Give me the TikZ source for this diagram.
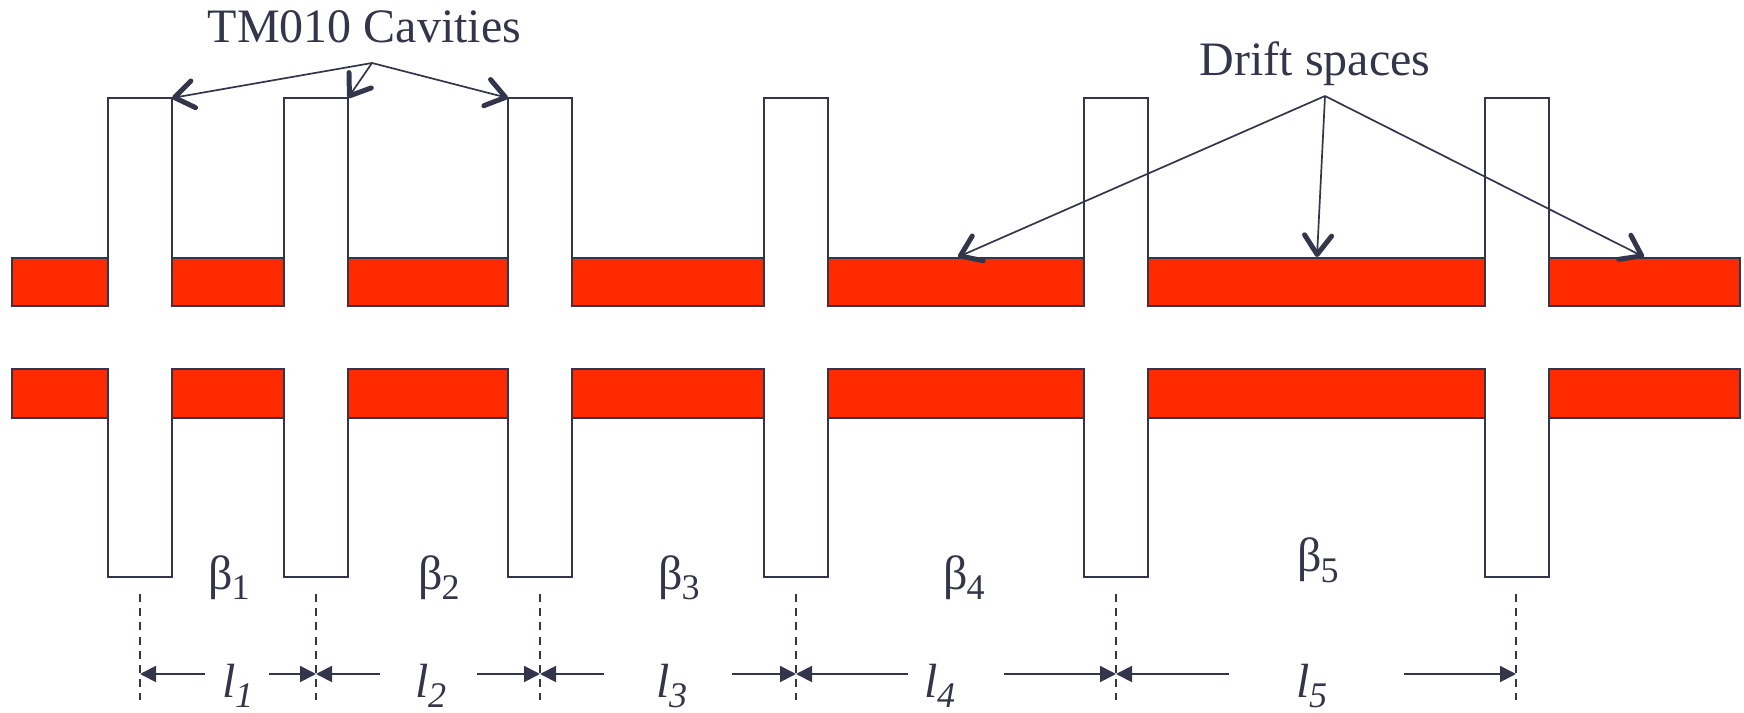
\documentclass[tikz,border=0pt]{standalone}
\usepackage{fontspec}
\setmainfont{Liberation Serif}
\usetikzlibrary{arrows.meta}
\definecolor{cLine}{HTML}{33364A}
\definecolor{cPipe}{HTML}{FF2A00}
\newcommand{\subtxt}[1]{\kern-0.15mm\raisebox{-1mm}{\fontsize{10.25}{12}\selectfont #1}}
\newcommand{\sublow}[1]{\kern-0.1mm\raisebox{-1mm}{\fontsize{10.25}{12}\selectfont #1}}
\tikzset{
  pipe/.style={fill=cPipe,draw=cLine,line width=0.22mm,line join=miter},
  wall/.style={draw=cLine,line width=0.22mm,line join=miter},
  guide/.style={draw=cLine,line width=0.2mm,dash pattern=on 0.8mm off 0.62mm},
  ptr/.style={draw=cLine,line width=0.17mm,-{Straight Barb[length=1.9mm,width=2.7mm,line width=0.5mm,round]}},
  dimarr/.style={draw=cLine,line width=0.2mm,-{Triangle[length=1.6mm,width=1.6mm]}},
  lbl/.style={font=\fontsize{13.66}{16}\selectfont,text=cLine,inner sep=0pt,anchor=base west},
  ital/.style={lbl,font=\fontsize{13.66}{16}\selectfont\itshape}}
\begin{document}
\begin{tikzpicture}[x=0.1mm,y=-0.1mm]
\useasboundingbox (0,0) rectangle (1744,713);
\draw[pipe] (12,258)   rectangle (108,306);
\draw[pipe] (172,258)  rectangle (284,306);
\draw[pipe] (348,258)  rectangle (508,306);
\draw[pipe] (572,258)  rectangle (764,306);
\draw[pipe] (828,258)  rectangle (1084,306);
\draw[pipe] (1148,258) rectangle (1485,306);
\draw[pipe] (1549,258) rectangle (1740,306);
\draw[pipe] (12,369)   rectangle (108,418);
\draw[pipe] (172,369)  rectangle (284,418);
\draw[pipe] (348,369)  rectangle (508,418);
\draw[pipe] (572,369)  rectangle (764,418);
\draw[pipe] (828,369)  rectangle (1084,418);
\draw[pipe] (1148,369) rectangle (1485,418);
\draw[pipe] (1549,369) rectangle (1740,418);
\draw[wall] (108,306)  -- (108,98)  -- (172,98)  -- (172,306);
\draw[wall] (284,306)  -- (284,98)  -- (348,98)  -- (348,306);
\draw[wall] (508,306)  -- (508,98)  -- (572,98)  -- (572,306);
\draw[wall] (764,306)  -- (764,98)  -- (828,98)  -- (828,306);
\draw[wall] (1084,306) -- (1084,98) -- (1148,98) -- (1148,306);
\draw[wall] (1485,306) -- (1485,98) -- (1549,98) -- (1549,306);
\draw[wall] (108,369)  -- (108,577)  -- (172,577)  -- (172,369);
\draw[wall] (284,369)  -- (284,577)  -- (348,577)  -- (348,369);
\draw[wall] (508,369)  -- (508,577)  -- (572,577)  -- (572,369);
\draw[wall] (764,369)  -- (764,577)  -- (828,577)  -- (828,369);
\draw[wall] (1084,369) -- (1084,577) -- (1148,577) -- (1148,369);
\draw[wall] (1485,369) -- (1485,577) -- (1549,577) -- (1549,369);
\node[lbl] (tCav)   at (207,43) {TM010 Cavities};
\node[lbl] (tDrift) at (1199,76) {Drift spaces};
\coordinate (hubCav)   at (372,63);
\coordinate (hubDrift) at (1325,96);
\coordinate (cavA) at (172,98);
\coordinate (cavB) at (348,98);
\coordinate (cavC) at (508,98);
\coordinate (driftA) at (958,257);
\coordinate (driftB) at (1317,257);
\coordinate (driftC) at (1644,257);
\draw[ptr] (hubCav) -- (cavA);
\draw[ptr] (hubCav) -- (cavB);
\draw[ptr] (hubCav) -- (cavC);
\draw[ptr] (hubDrift) -- (driftA);
\draw[ptr] (hubDrift) -- (driftB);
\draw[ptr] (hubDrift) -- (driftC);
\node[lbl] (bA) at (208,590)  {β\subtxt{1}};
\node[lbl] (bB) at (418,590)  {β\subtxt{2}};
\node[lbl] (bC) at (658,590)  {β\subtxt{3}};
\node[lbl] (bD) at (943,590)  {β\subtxt{4}};
\node[lbl] (bE) at (1297,572) {β\subtxt{5}};
\node[ital] (lA) at (222,698)  {l\sublow{1}};
\node[ital] (lB) at (415,698)  {l\sublow{2}};
\node[ital] (lC) at (656,698)  {l\sublow{3}};
\node[ital] (lD) at (924,698)  {l\sublow{4}};
\node[ital] (lE) at (1296,698) {l\sublow{5}};
\coordinate (gA) at (140,674);
\coordinate (gB) at (316,674);
\coordinate (gC) at (540,674);
\coordinate (gD) at (796,674);
\coordinate (gE) at (1116,674);
\coordinate (gF) at (1516,674);
\draw[guide] (140,594)  -- (gA) -- (140,700);
\draw[guide] (316,594)  -- (gB) -- (316,700);
\draw[guide] (540,594)  -- (gC) -- (540,700);
\draw[guide] (796,594)  -- (gD) -- (796,700);
\draw[guide] (1116,594) -- (gE) -- (1116,700);
\draw[guide] (1516,594) -- (gF) -- (1516,700);
\coordinate (tailA) at (205,674);
\coordinate (tailB) at (269,674);
\coordinate (tailC) at (380,674);
\coordinate (tailD) at (477,674);
\coordinate (tailE) at (604,674);
\coordinate (tailF) at (732,674);
\coordinate (tailG) at (908,674);
\coordinate (tailH) at (1004,674);
\coordinate (tailI) at (1229,674);
\coordinate (tailJ) at (1404,674);
\draw[dimarr] (tailA) -- (gA);
\draw[dimarr] (tailB) -- (gB);
\draw[dimarr] (tailC) -- (gB);
\draw[dimarr] (tailD) -- (gC);
\draw[dimarr] (tailE) -- (gC);
\draw[dimarr] (tailF) -- (gD);
\draw[dimarr] (tailG) -- (gD);
\draw[dimarr] (tailH) -- (gE);
\draw[dimarr] (tailI) -- (gE);
\draw[dimarr] (tailJ) -- (gF);
\end{tikzpicture}
\end{document}
